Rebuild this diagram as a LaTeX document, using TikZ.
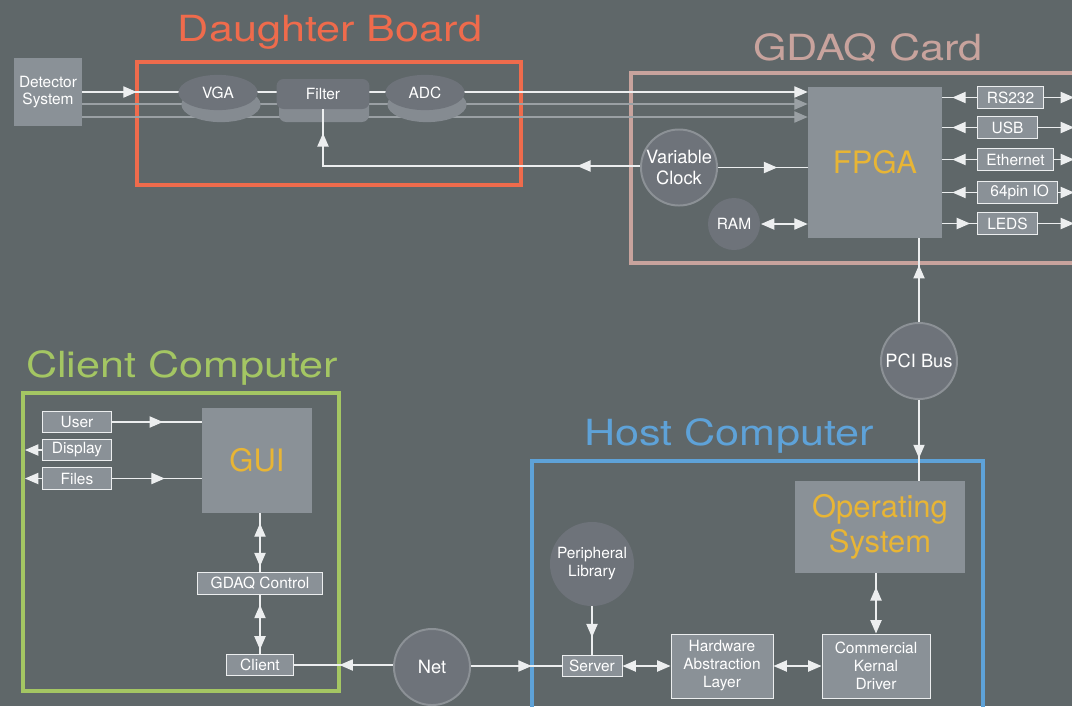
\documentclass[tikz,border=0pt]{standalone}
\usepackage{fontspec}
\setmainfont{TeX Gyre Heros}
\newfontfamily\titlefont[FakeStretch=1.2]{TeX Gyre Heros}
\usetikzlibrary{arrows.meta,shapes.geometric,decorations.markings}

\definecolor{bg}{HTML}{5F6769}
\definecolor{boxfill}{HTML}{8A9197}
\definecolor{discfill}{HTML}{6E737A}
\definecolor{discedge}{HTML}{8C9196}
\definecolor{shadefill}{HTML}{858B91}
\definecolor{wire}{HTML}{ECEEEF}
\definecolor{wiregray}{HTML}{9AA0A4}
\definecolor{orangeline}{HTML}{EF6B4C}
\definecolor{pinkline}{HTML}{C8A39D}
\definecolor{greenline}{HTML}{A4C663}
\definecolor{blueline}{HTML}{5EA2D8}
\definecolor{goldtext}{HTML}{E8B535}

\tikzset{
  >={Triangle[length=9.5pt,width=8pt]},
  every node/.style={text=white},
  bigbox/.style={fill=boxfill, text=goldtext, align=center,
    font=\fontsize{22}{24.5}\selectfont},
  portbox/.style={fill=boxfill, draw=wire, line width=0.7pt, inner sep=1pt,
    minimum height=0.54cm, font=\fontsize{11}{12.8}\selectfont, align=center},
  disc/.style={circle, fill=discfill, draw=discedge, line width=1.4pt, inner sep=0pt,
    align=center, font=\fontsize{13}{15.6}\selectfont},
  frame/.style={line width=2.2pt},
  title/.style={font=\titlefont\fontsize{25.6}{28}\selectfont, anchor=base},
  wireline/.style={draw=wire, line width=0.9pt},
  tipat/.style={postaction={decorate,decoration={markings,
    mark=at position #1 with {\arrow{>}}}}},
  tipback/.style={postaction={decorate,decoration={markings,
    mark=at position #1 with {\arrowreversed{>}}}}},
}

\begin{document}
\begin{tikzpicture}[x=0.025cm, y=-0.025cm]
\fill[bg] (0,0) rectangle (1072,706);
\clip (0,0) rectangle (1072,706);

% frames and titles
\node[title, text=orangeline] (boardtitle) at (330,41) {Daughter Board};
\draw[orangeline, frame] (137,62) rectangle (521,185);
\node[title, text=pinkline] (cardtitle) at (868,60) {GDAQ Card};
\draw[pinkline, frame] (631,73) rectangle (1100,263);
\node[title, text=greenline] (clienttitle) at (182,377) {Client Computer};
\draw[greenline, frame] (23,393) rectangle (339,691);
\node[title, text=blueline] (hosttitle) at (729,445) {Host Computer};
\draw[blueline, frame] (532,461) rectangle (983,730);

% daughter board and card
\node[fill=boxfill, minimum width=1.7cm, minimum height=1.7cm, align=center,
  font=\fontsize{11}{12.5}\selectfont] (det) at (48,92) {Detector\\System};
\node[bigbox, minimum width=3.35cm, minimum height=3.775cm] (fpga) at (875,162.5) {FPGA};

\coordinate (lane2) at (0,104);
\coordinate (lane3) at (0,117);
\draw[wireline, ->, tipat=0.075] (det.east) -- (det.east -| fpga.west);
\draw[wiregray, line width=0.9pt, ->] (det.east |- lane2) -- (fpga.west |- lane2);
\draw[wiregray, line width=0.9pt, ->] (det.east |- lane3) -- (fpga.west |- lane3);

\fill[shadefill] (221,104.5) ellipse [x radius=0.99cm, y radius=0.44cm];
\node[ellipse, fill=discfill, minimum width=1.98cm, minimum height=0.88cm,
  font=\fontsize{11}{12.5}\selectfont] (vga) at (218,92.5) {VGA};
\fill[shadefill, rounded corners=5pt] (279,96) rectangle (369,122);
\node[fill=discfill, rounded corners=5pt, minimum width=2.32cm, minimum height=0.75cm,
  font=\fontsize{11}{12.5}\selectfont] (filter) at (323,94) {Filter};
\fill[shadefill] (427,104.5) ellipse [x radius=0.99cm, y radius=0.44cm];
\node[ellipse, fill=discfill, minimum width=1.98cm, minimum height=0.88cm,
  font=\fontsize{11}{12.5}\selectfont] (adc) at (425,92.5) {ADC};

\node[disc, minimum size=1.9cm] (clk) at (679,167.5) {Variable\\Clock};
\node[disc, draw=none, minimum size=1.3cm, font=\fontsize{11}{12.5}\selectfont] (ram) at (734,224) {RAM};

\draw[wireline, tipat=0.168, tipat=0.936] (clk.west |- 0,166) -- (filter.south |- 0,166) -- (filter.south);
\draw[wireline, tipat=0.66] (clk.east) -- (clk.east -| fpga.west);
\draw[wireline, <->] (ram.east) -- (ram.east -| fpga.west);

% ports
\coordinate (outedge) at (1074,0);
\node[portbox, anchor=west, minimum width=1.65cm] (rs) at (977,97.5) {RS232};
\node[portbox, anchor=west, minimum width=1.5cm] (usb) at (977,127.5) {USB};
\node[portbox, anchor=west, minimum width=1.9cm] (eth) at (977,159.5) {Ethernet};
\node[portbox, anchor=west, minimum width=2.0cm] (pio) at (977,192.5) {\ 64pin IO};
\node[portbox, anchor=west, minimum width=1.5cm] (leds) at (977,223.5) {LEDS};

\draw[wireline, tipat=0.71] (rs.west) -- (rs.west -| fpga.east);
\draw[wireline, tipat=0.71] (usb.west) -- (usb.west -| fpga.east);
\draw[wireline, tipat=0.71] (eth.west) -- (eth.west -| fpga.east);
\draw[wireline, tipat=0.71] (pio.west) -- (pio.west -| fpga.east);
\draw[wireline, tipat=0.8] (leds.west -| fpga.east) -- (leds.west);
\draw[wireline, ->] (rs.east) -- (rs.east -| outedge);
\draw[wireline, ->] (usb.east) -- (usb.east -| outedge);
\draw[wireline, ->] (eth.east) -- (eth.east -| outedge);
\draw[wireline, ->] (pio.east) -- (pio.east -| outedge);
\draw[wireline, ->] (leds.east) -- (leds.east -| outedge);

% bus
\node[disc, minimum size=1.9cm] (pci) at (919,361) {PCI Bus};
\node[bigbox, minimum width=4.25cm, minimum height=2.3cm] (os) at (880,527) {Operating\\System};
\draw[wireline, tipat=0.68] (pci.north) -- (pci.north |- fpga.south);
\draw[wireline, tipat=0.72] (pci.south) -- (pci.south |- os.north);

% client computer
\coordinate (leftedge) at (25,0);
\node[portbox, minimum width=1.7cm] (user) at (77,422) {User};
\node[portbox, minimum width=1.7cm] (display) at (77,450) {Display};
\node[portbox, minimum width=1.7cm] (files) at (77,478.5) {Files};
\node[bigbox, minimum width=2.75cm, minimum height=2.625cm] (gui) at (257,460.5) {GUI};
\node[portbox, minimum width=3.1cm] (ctrl) at (260,583.5) {GDAQ Control};
\node[portbox, minimum width=1.675cm] (client) at (260,665) {Client};

\draw[wireline, tipat=0.57] (user.east) -- (user.east -| gui.west);
\draw[wireline, tipat=0.59] (files.east) -- (files.east -| gui.west);
\draw[wireline, ->] (display.west) -- (display.west -| leftedge);
\draw[wireline, ->] (files.west) -- (files.west -| leftedge);
\draw[wireline, tipback=0.17, tipat=0.9] (ctrl.north |- gui.south) -- (ctrl.north);
\draw[wireline, tipback=0.17, tipat=0.93] (ctrl.south) -- (client.north);

% host computer
\node[disc, minimum size=1.9cm] (net) at (432,667) {Net};
\node[circle, fill=discfill, minimum size=2.1cm, inner sep=0pt, align=center,
  font=\fontsize{11}{12.8}\selectfont] (periph) at (592,564) {Peripheral\\Library};
\node[portbox, minimum width=1.5cm] (server) at (592,666) {Server};
\node[portbox, minimum width=2.55cm, minimum height=1.6cm] (hal) at (722,666) {Hardware\\Abstraction\\Layer};
\node[portbox, minimum width=2.7cm, minimum height=1.6cm] (ckd) at (876,666) {Commercial\\Kernal\\Driver};

\draw[wireline, tipat=0.54] (client.east -| net.west) -- (client.east);
\draw[wireline, tipat=0.67] (server.west -| net.east) -- (server.west);
\draw[wireline, tipat=0.64] (periph.south) -- (server.north);
\draw[wireline, <->] (server.east) -- (hal.west);
\draw[wireline, <->] (hal.east) -- (ckd.west);
\draw[wireline, tipback=0.23, ->] (ckd.north |- os.south) -- (ckd.north);
\end{tikzpicture}
\end{document}
